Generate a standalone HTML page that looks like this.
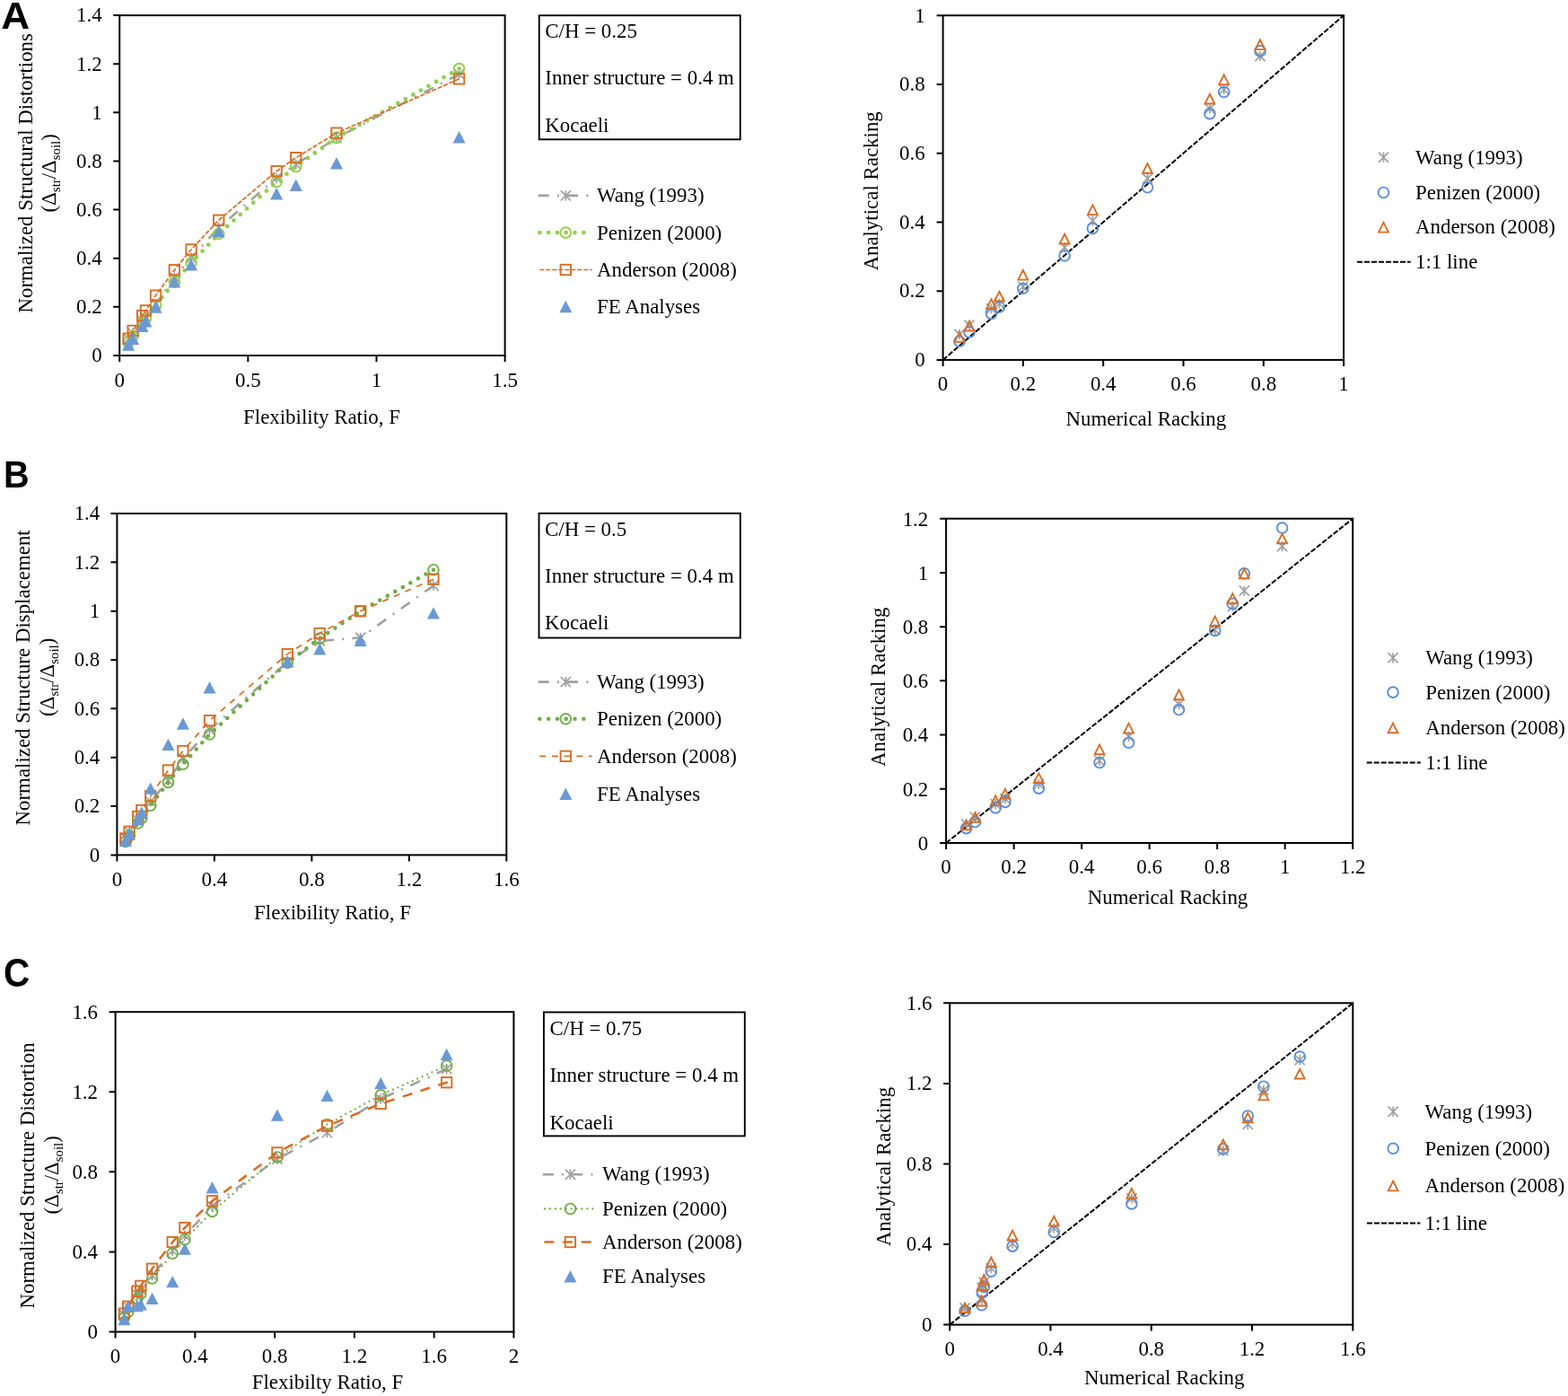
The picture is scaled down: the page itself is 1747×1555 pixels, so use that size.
<!DOCTYPE html>
<html lang="en"><head><meta charset="utf-8"><title>Racking comparison</title>
<style>html,body{margin:0;padding:0;background:#fff}svg{display:block}text{font-family:"Liberation Serif","DejaVu Serif",serif;fill:#000}.pl{font-family:"Liberation Sans","DejaVu Sans",sans-serif;font-weight:bold}</style></head><body>
<svg width="1747" height="1555" viewBox="0 0 1747 1555" role="img" aria-label="Racking comparison charts">
<rect width="1747" height="1555" fill="#fff"/>
<g id="leftA">
<rect x="133.2" y="17.1" width="429.4" height="378.9" fill="none" stroke="#000" stroke-width="2"/>
<path d="M133.2 396v7M276.33 396v7M419.47 396v7M562.6 396v7M133.2 396h-7M133.2 341.87h-7M133.2 287.74h-7M133.2 233.61h-7M133.2 179.49h-7M133.2 125.36h-7M133.2 71.23h-7M133.2 17.1h-7" stroke="#000" stroke-width="2" fill="none"/>
<text x="133.2" y="430.9" font-size="22.9" text-anchor="middle">0</text>
<text x="276.33" y="430.9" font-size="22.9" text-anchor="middle">0.5</text>
<text x="419.47" y="430.9" font-size="22.9" text-anchor="middle">1</text>
<text x="562.6" y="430.9" font-size="22.9" text-anchor="middle">1.5</text>
<text x="113.6" y="403.3" font-size="22.9" text-anchor="end">0</text>
<text x="113.6" y="349.17" font-size="22.9" text-anchor="end">0.2</text>
<text x="113.6" y="295.04" font-size="22.9" text-anchor="end">0.4</text>
<text x="113.6" y="240.91" font-size="22.9" text-anchor="end">0.6</text>
<text x="113.6" y="186.79" font-size="22.9" text-anchor="end">0.8</text>
<text x="113.6" y="132.66" font-size="22.9" text-anchor="end">1</text>
<text x="113.6" y="78.53" font-size="22.9" text-anchor="end">1.2</text>
<text x="113.6" y="24.4" font-size="22.9" text-anchor="end">1.4</text>
<path d="M511.59 82.6L374.95 153.61L329.75 183L308.11 198.3L243.7 253.64L213.07 287.2L194.32 308.85L173.56 338.49L162.4 353.24L158.59 357.57L148.11 371.1L143.08 377.6" stroke="#A0A0A0" stroke-width="2.6" fill="none" stroke-dasharray="12 9.2 2 9.2" stroke-linecap="butt" stroke-linejoin="round"/>
<path d="M143.08 372V383.2M137.48 372L148.68 383.2M137.48 383.2L148.68 372" stroke="#A0A0A0" stroke-width="1.7" fill="none"/>
<path d="M148.11 365.5V376.7M142.51 365.5L153.71 376.7M142.51 376.7L153.71 365.5" stroke="#A0A0A0" stroke-width="1.7" fill="none"/>
<path d="M158.59 351.97V363.17M152.99 351.97L164.19 363.17M152.99 363.17L164.19 351.97" stroke="#A0A0A0" stroke-width="1.7" fill="none"/>
<path d="M162.4 347.64V358.84M156.8 347.64L168 358.84M156.8 358.84L168 347.64" stroke="#A0A0A0" stroke-width="1.7" fill="none"/>
<path d="M173.56 332.89V344.09M167.96 332.89L179.16 344.09M167.96 344.09L179.16 332.89" stroke="#A0A0A0" stroke-width="1.7" fill="none"/>
<path d="M194.32 303.25V314.45M188.72 303.25L199.92 314.45M188.72 314.45L199.92 303.25" stroke="#A0A0A0" stroke-width="1.7" fill="none"/>
<path d="M213.07 281.6V292.8M207.47 281.6L218.67 292.8M207.47 292.8L218.67 281.6" stroke="#A0A0A0" stroke-width="1.7" fill="none"/>
<path d="M243.7 248.04V259.24M238.1 248.04L249.3 259.24M238.1 259.24L249.3 248.04" stroke="#A0A0A0" stroke-width="1.7" fill="none"/>
<path d="M308.11 192.7V203.9M302.51 192.7L313.71 203.9M302.51 203.9L313.71 192.7" stroke="#A0A0A0" stroke-width="1.7" fill="none"/>
<path d="M329.75 177.4V188.6M324.15 177.4L335.35 188.6M324.15 188.6L335.35 177.4" stroke="#A0A0A0" stroke-width="1.7" fill="none"/>
<path d="M374.95 148.01V159.21M369.35 148.01L380.55 159.21M369.35 159.21L380.55 148.01" stroke="#A0A0A0" stroke-width="1.7" fill="none"/>
<path d="M511.59 77V88.2M505.99 77L517.19 88.2M505.99 88.2L517.19 77" stroke="#A0A0A0" stroke-width="1.7" fill="none"/>
<path d="M511.59 76.61L374.95 153.36L329.75 185.57L308.11 202.56L243.7 260.48L213.07 292.7L194.32 314.22L173.56 339.84L162.4 354.48L158.59 359.63L148.11 374.18L143.08 381.4" stroke="#92D050" stroke-width="4.8" fill="none" stroke-dasharray="0 9.8" stroke-linecap="round" stroke-linejoin="round"/>
<circle cx="143.08" cy="381.4" r="5.85" stroke="#92D050" stroke-width="1.9" fill="none"/>
<circle cx="148.11" cy="374.18" r="5.85" stroke="#92D050" stroke-width="1.9" fill="none"/>
<circle cx="158.59" cy="359.63" r="5.85" stroke="#92D050" stroke-width="1.9" fill="none"/>
<circle cx="162.4" cy="354.48" r="5.85" stroke="#92D050" stroke-width="1.9" fill="none"/>
<circle cx="173.56" cy="339.84" r="5.85" stroke="#92D050" stroke-width="1.9" fill="none"/>
<circle cx="194.32" cy="314.22" r="5.85" stroke="#92D050" stroke-width="1.9" fill="none"/>
<circle cx="213.07" cy="292.7" r="5.85" stroke="#92D050" stroke-width="1.9" fill="none"/>
<circle cx="243.7" cy="260.48" r="5.85" stroke="#92D050" stroke-width="1.9" fill="none"/>
<circle cx="308.11" cy="202.56" r="5.85" stroke="#92D050" stroke-width="1.9" fill="none"/>
<circle cx="329.75" cy="185.57" r="5.85" stroke="#92D050" stroke-width="1.9" fill="none"/>
<circle cx="374.95" cy="153.36" r="5.85" stroke="#92D050" stroke-width="1.9" fill="none"/>
<circle cx="511.59" cy="76.61" r="5.85" stroke="#92D050" stroke-width="1.9" fill="none"/>
<path d="M511.59 87.85L374.95 148.17L329.75 175.65L308.11 190.71L243.7 245.25L213.07 277.92L194.32 300.77L173.56 329.11L162.4 345.9L158.59 351.63L148.11 368.38L143.08 377.14" stroke="#D66E26" stroke-width="1.7" fill="none" stroke-dasharray="5.2 1.8" stroke-linecap="butt" stroke-linejoin="round"/>
<rect x="137.38" y="371.44" width="11.4" height="11.4" stroke="#D66E26" stroke-width="1.9" fill="none"/>
<rect x="142.41" y="362.68" width="11.4" height="11.4" stroke="#D66E26" stroke-width="1.9" fill="none"/>
<rect x="152.89" y="345.93" width="11.4" height="11.4" stroke="#D66E26" stroke-width="1.9" fill="none"/>
<rect x="156.7" y="340.2" width="11.4" height="11.4" stroke="#D66E26" stroke-width="1.9" fill="none"/>
<rect x="167.86" y="323.41" width="11.4" height="11.4" stroke="#D66E26" stroke-width="1.9" fill="none"/>
<rect x="188.62" y="295.07" width="11.4" height="11.4" stroke="#D66E26" stroke-width="1.9" fill="none"/>
<rect x="207.37" y="272.22" width="11.4" height="11.4" stroke="#D66E26" stroke-width="1.9" fill="none"/>
<rect x="238" y="239.55" width="11.4" height="11.4" stroke="#D66E26" stroke-width="1.9" fill="none"/>
<rect x="302.41" y="185.01" width="11.4" height="11.4" stroke="#D66E26" stroke-width="1.9" fill="none"/>
<rect x="324.05" y="169.95" width="11.4" height="11.4" stroke="#D66E26" stroke-width="1.9" fill="none"/>
<rect x="369.25" y="142.47" width="11.4" height="11.4" stroke="#D66E26" stroke-width="1.9" fill="none"/>
<rect x="505.89" y="82.15" width="11.4" height="11.4" stroke="#D66E26" stroke-width="1.9" fill="none"/>
<path d="M143.08 377.23L150.08 390.63H136.08Z" fill="#6A99D5"/>
<path d="M148.11 370.57L155.11 383.97H141.11Z" fill="#6A99D5"/>
<path d="M158.59 356.63L165.59 370.03H151.59Z" fill="#6A99D5"/>
<path d="M162.4 351.22L169.4 364.62H155.4Z" fill="#6A99D5"/>
<path d="M173.56 335.23L180.56 348.63H166.56Z" fill="#6A99D5"/>
<path d="M194.32 307.16L201.32 320.56H187.32Z" fill="#6A99D5"/>
<path d="M213.07 288.19L220.07 301.59H206.07Z" fill="#6A99D5"/>
<path d="M243.7 251.16L250.7 264.56H236.7Z" fill="#6A99D5"/>
<path d="M308.11 209.11L315.11 222.51H301.11Z" fill="#6A99D5"/>
<path d="M329.75 199.53L336.75 212.93H322.75Z" fill="#6A99D5"/>
<path d="M374.95 175.09L381.95 188.49H367.95Z" fill="#6A99D5"/>
<path d="M511.59 145.99L518.59 159.39H504.59Z" fill="#6A99D5"/>
<text transform="translate(35.7 192.8) rotate(-90)" font-size="22.9" text-anchor="middle">Normalized Structural Distortions</text>
<text transform="translate(62 192.8) rotate(-90)" font-size="22.9" text-anchor="middle">(Δ<tspan font-size="14.8" dy="4.9">str</tspan><tspan dy="-4.9">/Δ</tspan><tspan font-size="14.8" dy="4.9">soil</tspan><tspan dy="-4.9">)</tspan></text>
<text x="358.5" y="471.5" font-size="22.9" text-anchor="middle">Flexibility Ratio, F</text>
</g>
<g id="infoA">
<rect x="600.7" y="17.2" width="224" height="138.1" fill="none" stroke="#000" stroke-width="1.9"/>
<text x="607.3" y="42.1" font-size="22.9" text-anchor="start">C/H = 0.25</text>
<text x="607.3" y="94.4" font-size="22.9" text-anchor="start">Inner structure = 0.4 m</text>
<text x="607.3" y="146.8" font-size="22.9" text-anchor="start">Kocaeli</text>
<path d="M599.7 217.9H659.7" stroke="#A0A0A0" stroke-width="2.6" stroke-dasharray="12 9.2 2 9.2" fill="none"/>
<path d="M630.3 212.3V223.5M624.7 212.3L635.9 223.5M624.7 223.5L635.9 212.3" stroke="#A0A0A0" stroke-width="1.7" fill="none"/>
<text x="665" y="224.9" font-size="22.9" text-anchor="start">Wang (1993)</text>
<path d="M601.3 259.1H659.7" stroke="#92D050" stroke-width="4.8" stroke-dasharray="0 9.8" stroke-linecap="round" fill="none"/>
<circle cx="630.3" cy="259.1" r="5.85" stroke="#92D050" stroke-width="1.9" fill="none"/>
<text x="665" y="266.5" font-size="22.9" text-anchor="start">Penizen (2000)</text>
<path d="M601.2 300.5H659.7" stroke="#D66E26" stroke-width="1.7" stroke-dasharray="5.2 1.8" stroke-linecap="butt" fill="none"/>
<rect x="624.6" y="294.8" width="11.4" height="11.4" stroke="#D66E26" stroke-width="1.9" fill="none"/>
<text x="665" y="308" font-size="22.9" text-anchor="start">Anderson (2008)</text>
<path d="M630.3 334.8L637.3 348.2H623.3Z" fill="#6A99D5"/>
<text x="665" y="348.8" font-size="22.9" text-anchor="start">FE Analyses</text>
</g>
<g id="rightA">
<rect x="1050.6" y="17.2" width="446.5" height="383.7" fill="none" stroke="#000" stroke-width="2"/>
<path d="M1050.6 400.9v7M1139.9 400.9v7M1229.2 400.9v7M1318.5 400.9v7M1407.8 400.9v7M1497.1 400.9v7M1050.6 400.9h-7M1050.6 324.16h-7M1050.6 247.42h-7M1050.6 170.68h-7M1050.6 93.94h-7M1050.6 17.2h-7" stroke="#000" stroke-width="2" fill="none"/>
<text x="1050.6" y="434.8" font-size="22.9" text-anchor="middle">0</text>
<text x="1139.9" y="434.8" font-size="22.9" text-anchor="middle">0.2</text>
<text x="1229.2" y="434.8" font-size="22.9" text-anchor="middle">0.4</text>
<text x="1318.5" y="434.8" font-size="22.9" text-anchor="middle">0.6</text>
<text x="1407.8" y="434.8" font-size="22.9" text-anchor="middle">0.8</text>
<text x="1497.1" y="434.8" font-size="22.9" text-anchor="middle">1</text>
<text x="1030.6" y="408.2" font-size="22.9" text-anchor="end">0</text>
<text x="1030.6" y="331.46" font-size="22.9" text-anchor="end">0.2</text>
<text x="1030.6" y="254.72" font-size="22.9" text-anchor="end">0.4</text>
<text x="1030.6" y="177.98" font-size="22.9" text-anchor="end">0.6</text>
<text x="1030.6" y="101.24" font-size="22.9" text-anchor="end">0.8</text>
<text x="1030.6" y="24.5" font-size="22.9" text-anchor="end">1</text>
<path d="M1050.6 400.9L1497.1 17.2" stroke="#000" stroke-width="2" stroke-dasharray="6 2" fill="none"/>
<path d="M1069.04 366.91V378.11M1063.44 366.91L1074.64 378.11M1063.44 378.11L1074.64 366.91" stroke="#A0A0A0" stroke-width="1.7" fill="none"/>
<path d="M1080.02 356.55V367.75M1074.42 356.55L1085.62 367.75M1074.42 367.75L1085.62 356.55" stroke="#A0A0A0" stroke-width="1.7" fill="none"/>
<path d="M1104.49 338.13V349.33M1098.89 338.13L1110.09 349.33M1098.89 349.33L1110.09 338.13" stroke="#A0A0A0" stroke-width="1.7" fill="none"/>
<path d="M1113.42 332.57V343.77M1107.82 332.57L1119.02 343.77M1107.82 343.77L1119.02 332.57" stroke="#A0A0A0" stroke-width="1.7" fill="none"/>
<path d="M1139.81 313.76V324.96M1134.21 313.76L1145.41 324.96M1134.21 324.96L1145.41 313.76" stroke="#A0A0A0" stroke-width="1.7" fill="none"/>
<path d="M1186.11 270.02V281.22M1180.51 270.02L1191.71 281.22M1180.51 281.22L1191.71 270.02" stroke="#A0A0A0" stroke-width="1.7" fill="none"/>
<path d="M1217.41 240.09V251.29M1211.81 240.09L1223.01 251.29M1211.81 251.29L1223.01 240.09" stroke="#A0A0A0" stroke-width="1.7" fill="none"/>
<path d="M1278.49 193.09V204.29M1272.89 193.09L1284.09 204.29M1272.89 204.29L1284.09 193.09" stroke="#A0A0A0" stroke-width="1.7" fill="none"/>
<path d="M1347.88 115.39V126.59M1342.28 115.39L1353.48 126.59M1342.28 126.59L1353.48 115.39" stroke="#A0A0A0" stroke-width="1.7" fill="none"/>
<path d="M1363.69 94.1V105.3M1358.09 94.1L1369.29 105.3M1358.09 105.3L1369.29 94.1" stroke="#A0A0A0" stroke-width="1.7" fill="none"/>
<path d="M1404 56.88V68.08M1398.4 56.88L1409.6 68.08M1398.4 68.08L1409.6 56.88" stroke="#A0A0A0" stroke-width="1.7" fill="none"/>
<circle cx="1069.04" cy="380.21" r="5.85" stroke="#5B8FD6" stroke-width="1.9" fill="none"/>
<circle cx="1080.02" cy="369.97" r="5.85" stroke="#5B8FD6" stroke-width="1.9" fill="none"/>
<circle cx="1104.49" cy="349.33" r="5.85" stroke="#5B8FD6" stroke-width="1.9" fill="none"/>
<circle cx="1113.42" cy="342.04" r="5.85" stroke="#5B8FD6" stroke-width="1.9" fill="none"/>
<circle cx="1139.81" cy="321.28" r="5.85" stroke="#5B8FD6" stroke-width="1.9" fill="none"/>
<circle cx="1186.11" cy="284.95" r="5.85" stroke="#5B8FD6" stroke-width="1.9" fill="none"/>
<circle cx="1217.41" cy="254.45" r="5.85" stroke="#5B8FD6" stroke-width="1.9" fill="none"/>
<circle cx="1278.49" cy="208.78" r="5.85" stroke="#5B8FD6" stroke-width="1.9" fill="none"/>
<circle cx="1347.88" cy="126.65" r="5.85" stroke="#5B8FD6" stroke-width="1.9" fill="none"/>
<circle cx="1363.69" cy="102.56" r="5.85" stroke="#5B8FD6" stroke-width="1.9" fill="none"/>
<circle cx="1404" cy="56.91" r="5.85" stroke="#5B8FD6" stroke-width="1.9" fill="none"/>
<path d="M1069.04 370.21L1074.44 380.91H1063.64Z" stroke="#D66E26" stroke-width="1.9" fill="none" stroke-linejoin="miter"/>
<path d="M1080.02 357.8L1085.42 368.5H1074.62Z" stroke="#D66E26" stroke-width="1.9" fill="none" stroke-linejoin="miter"/>
<path d="M1104.49 333.28L1109.89 343.98H1099.09Z" stroke="#D66E26" stroke-width="1.9" fill="none" stroke-linejoin="miter"/>
<path d="M1113.42 324.77L1118.82 335.47H1108.02Z" stroke="#D66E26" stroke-width="1.9" fill="none" stroke-linejoin="miter"/>
<path d="M1139.81 300.97L1145.21 311.67H1134.41Z" stroke="#D66E26" stroke-width="1.9" fill="none" stroke-linejoin="miter"/>
<path d="M1186.11 260.79L1191.51 271.49H1180.71Z" stroke="#D66E26" stroke-width="1.9" fill="none" stroke-linejoin="miter"/>
<path d="M1217.41 228.4L1222.81 239.1H1212.01Z" stroke="#D66E26" stroke-width="1.9" fill="none" stroke-linejoin="miter"/>
<path d="M1278.49 182.08L1283.89 192.78H1273.09Z" stroke="#D66E26" stroke-width="1.9" fill="none" stroke-linejoin="miter"/>
<path d="M1347.88 104.75L1353.28 115.45H1342.48Z" stroke="#D66E26" stroke-width="1.9" fill="none" stroke-linejoin="miter"/>
<path d="M1363.69 83.4L1369.09 94.1H1358.29Z" stroke="#D66E26" stroke-width="1.9" fill="none" stroke-linejoin="miter"/>
<path d="M1404 44.45L1409.4 55.15H1398.6Z" stroke="#D66E26" stroke-width="1.9" fill="none" stroke-linejoin="miter"/>
<text transform="translate(977.9 212.9) rotate(-90)" font-size="22.9" text-anchor="middle">Analytical Racking</text>
<text x="1276.8" y="474" font-size="22.9" text-anchor="middle">Numerical Racking</text>
<path d="M1541.5 169.6V180.8M1535.9 169.6L1547.1 180.8M1535.9 180.8L1547.1 169.6" stroke="#A0A0A0" stroke-width="1.7" fill="none"/>
<text x="1577" y="182.6" font-size="22.9" text-anchor="start">Wang (1993)</text>
<circle cx="1541.5" cy="214.5" r="5.85" stroke="#5B8FD6" stroke-width="1.9" fill="none"/>
<text x="1577" y="221.9" font-size="22.9" text-anchor="start">Penizen (2000)</text>
<path d="M1541.5 247.9L1546.9 258.6H1536.1Z" stroke="#D66E26" stroke-width="1.9" fill="none" stroke-linejoin="miter"/>
<text x="1577" y="260.4" font-size="22.9" text-anchor="start">Anderson (2008)</text>
<path d="M1512 291.8H1571.7" stroke="#000" stroke-width="2" stroke-dasharray="6 2" fill="none"/>
<text x="1577" y="299.2" font-size="22.9" text-anchor="start">1:1 line</text>
</g>
<g id="leftB">
<rect x="130.4" y="572" width="433.9" height="380.4" fill="none" stroke="#000" stroke-width="2"/>
<path d="M130.4 952.4v7M238.88 952.4v7M347.35 952.4v7M455.82 952.4v7M564.3 952.4v7M130.4 952.4h-7M130.4 898.06h-7M130.4 843.71h-7M130.4 789.37h-7M130.4 735.03h-7M130.4 680.69h-7M130.4 626.34h-7M130.4 572h-7" stroke="#000" stroke-width="2" fill="none"/>
<text x="130.4" y="986.7" font-size="22.9" text-anchor="middle">0</text>
<text x="238.88" y="986.7" font-size="22.9" text-anchor="middle">0.4</text>
<text x="347.35" y="986.7" font-size="22.9" text-anchor="middle">0.8</text>
<text x="455.82" y="986.7" font-size="22.9" text-anchor="middle">1.2</text>
<text x="564.3" y="986.7" font-size="22.9" text-anchor="middle">1.6</text>
<text x="111.3" y="959.7" font-size="22.9" text-anchor="end">0</text>
<text x="111.3" y="905.36" font-size="22.9" text-anchor="end">0.2</text>
<text x="111.3" y="851.01" font-size="22.9" text-anchor="end">0.4</text>
<text x="111.3" y="796.67" font-size="22.9" text-anchor="end">0.6</text>
<text x="111.3" y="742.33" font-size="22.9" text-anchor="end">0.8</text>
<text x="111.3" y="687.99" font-size="22.9" text-anchor="end">1</text>
<text x="111.3" y="633.64" font-size="22.9" text-anchor="end">1.2</text>
<text x="111.3" y="579.3" font-size="22.9" text-anchor="end">1.4</text>
<path d="M482.94 652.26L401.59 710.3L356.19 714L320.23 737.53L233.51 812.6L203.89 845.18L187.4 869.45L167.69 893L157.79 907.84L153.7 913.22L144.09 926.32L139.89 933.43" stroke="#A0A0A0" stroke-width="2.6" fill="none" stroke-dasharray="12 9.2 2 9.2" stroke-linecap="butt" stroke-linejoin="round"/>
<path d="M139.89 927.83V939.03M134.29 927.83L145.49 939.03M134.29 939.03L145.49 927.83" stroke="#A0A0A0" stroke-width="1.7" fill="none"/>
<path d="M144.09 920.72V931.92M138.49 920.72L149.69 931.92M138.49 931.92L149.69 920.72" stroke="#A0A0A0" stroke-width="1.7" fill="none"/>
<path d="M153.7 907.62V918.82M148.1 907.62L159.3 918.82M148.1 918.82L159.3 907.62" stroke="#A0A0A0" stroke-width="1.7" fill="none"/>
<path d="M157.79 902.24V913.44M152.19 902.24L163.39 913.44M152.19 913.44L163.39 902.24" stroke="#A0A0A0" stroke-width="1.7" fill="none"/>
<path d="M167.69 887.4V898.6M162.09 887.4L173.29 898.6M162.09 898.6L173.29 887.4" stroke="#A0A0A0" stroke-width="1.7" fill="none"/>
<path d="M187.4 863.85V875.05M181.8 863.85L193 875.05M181.8 875.05L193 863.85" stroke="#A0A0A0" stroke-width="1.7" fill="none"/>
<path d="M203.89 839.58V850.78M198.29 839.58L209.49 850.78M198.29 850.78L209.49 839.58" stroke="#A0A0A0" stroke-width="1.7" fill="none"/>
<path d="M233.51 807V818.2M227.91 807L239.11 818.2M227.91 818.2L239.11 807" stroke="#A0A0A0" stroke-width="1.7" fill="none"/>
<path d="M320.23 731.93V743.13M314.63 731.93L325.83 743.13M314.63 743.13L325.83 731.93" stroke="#A0A0A0" stroke-width="1.7" fill="none"/>
<path d="M356.19 708.4V719.6M350.59 708.4L361.79 719.6M350.59 719.6L361.79 708.4" stroke="#A0A0A0" stroke-width="1.7" fill="none"/>
<path d="M401.59 704.7V715.9M395.99 704.7L407.19 715.9M395.99 715.9L407.19 704.7" stroke="#A0A0A0" stroke-width="1.7" fill="none"/>
<path d="M482.94 646.66V657.86M477.34 646.66L488.54 657.86M477.34 657.86L488.54 646.66" stroke="#A0A0A0" stroke-width="1.7" fill="none"/>
<path d="M482.94 634.73L401.59 680.69L356.19 711.1L320.23 738.23L233.51 818.02L203.89 851.25L187.4 871.42L167.69 897.31L157.79 911.1L153.7 916.98L144.09 931.15L139.89 937.54" stroke="#70AD47" stroke-width="4.6" fill="none" stroke-dasharray="0 9.8" stroke-linecap="round" stroke-linejoin="round"/>
<circle cx="139.89" cy="937.54" r="5.85" stroke="#70AD47" stroke-width="1.9" fill="none"/>
<circle cx="144.09" cy="931.15" r="5.85" stroke="#70AD47" stroke-width="1.9" fill="none"/>
<circle cx="153.7" cy="916.98" r="5.85" stroke="#70AD47" stroke-width="1.9" fill="none"/>
<circle cx="157.79" cy="911.1" r="5.85" stroke="#70AD47" stroke-width="1.9" fill="none"/>
<circle cx="167.69" cy="897.31" r="5.85" stroke="#70AD47" stroke-width="1.9" fill="none"/>
<circle cx="187.4" cy="871.42" r="5.85" stroke="#70AD47" stroke-width="1.9" fill="none"/>
<circle cx="203.89" cy="851.25" r="5.85" stroke="#70AD47" stroke-width="1.9" fill="none"/>
<circle cx="233.51" cy="818.02" r="5.85" stroke="#70AD47" stroke-width="1.9" fill="none"/>
<circle cx="320.23" cy="738.23" r="5.85" stroke="#70AD47" stroke-width="1.9" fill="none"/>
<circle cx="356.19" cy="711.1" r="5.85" stroke="#70AD47" stroke-width="1.9" fill="none"/>
<circle cx="401.59" cy="680.69" r="5.85" stroke="#70AD47" stroke-width="1.9" fill="none"/>
<circle cx="482.94" cy="634.73" r="5.85" stroke="#70AD47" stroke-width="1.9" fill="none"/>
<path d="M482.94 645.24L401.59 680.69L356.19 705.51L320.23 728.64L233.51 802.7L203.89 836.53L187.4 858.01L167.69 886.71L157.79 902.55L153.7 909.41L144.09 926.28L139.89 934.02" stroke="#D66E26" stroke-width="1.7" fill="none" stroke-dasharray="7 6.7" stroke-linecap="butt" stroke-linejoin="round"/>
<rect x="134.19" y="928.32" width="11.4" height="11.4" stroke="#D66E26" stroke-width="1.9" fill="none"/>
<rect x="138.39" y="920.58" width="11.4" height="11.4" stroke="#D66E26" stroke-width="1.9" fill="none"/>
<rect x="148" y="903.71" width="11.4" height="11.4" stroke="#D66E26" stroke-width="1.9" fill="none"/>
<rect x="152.09" y="896.85" width="11.4" height="11.4" stroke="#D66E26" stroke-width="1.9" fill="none"/>
<rect x="161.99" y="881.01" width="11.4" height="11.4" stroke="#D66E26" stroke-width="1.9" fill="none"/>
<rect x="181.7" y="852.31" width="11.4" height="11.4" stroke="#D66E26" stroke-width="1.9" fill="none"/>
<rect x="198.19" y="830.83" width="11.4" height="11.4" stroke="#D66E26" stroke-width="1.9" fill="none"/>
<rect x="227.81" y="797" width="11.4" height="11.4" stroke="#D66E26" stroke-width="1.9" fill="none"/>
<rect x="314.53" y="722.94" width="11.4" height="11.4" stroke="#D66E26" stroke-width="1.9" fill="none"/>
<rect x="350.49" y="699.81" width="11.4" height="11.4" stroke="#D66E26" stroke-width="1.9" fill="none"/>
<rect x="395.89" y="674.99" width="11.4" height="11.4" stroke="#D66E26" stroke-width="1.9" fill="none"/>
<rect x="477.24" y="639.54" width="11.4" height="11.4" stroke="#D66E26" stroke-width="1.9" fill="none"/>
<path d="M139.89 929.48L146.89 942.88H132.89Z" fill="#6A99D5"/>
<path d="M144.09 922.36L151.09 935.76H137.09Z" fill="#6A99D5"/>
<path d="M153.7 906.03L160.7 919.43H146.7Z" fill="#6A99D5"/>
<path d="M157.79 898.34L164.79 911.74H150.79Z" fill="#6A99D5"/>
<path d="M167.69 871.39L174.69 884.79H160.69Z" fill="#6A99D5"/>
<path d="M187.4 822.67L194.4 836.07H180.4Z" fill="#6A99D5"/>
<path d="M203.89 799.3L210.89 812.7H196.89Z" fill="#6A99D5"/>
<path d="M233.51 759.03L240.51 772.43H226.51Z" fill="#6A99D5"/>
<path d="M320.23 730.09L327.23 743.49H313.23Z" fill="#6A99D5"/>
<path d="M356.19 715.99L363.19 729.39H349.19Z" fill="#6A99D5"/>
<path d="M401.59 706.62L408.59 720.02H394.59Z" fill="#6A99D5"/>
<path d="M482.94 676.21L489.94 689.61H475.94Z" fill="#6A99D5"/>
<text transform="translate(33.1 754.9) rotate(-90)" font-size="22.9" text-anchor="middle">Normalized Structure Displacement</text>
<text transform="translate(60.2 754.3) rotate(-90)" font-size="22.9" text-anchor="middle">(Δ<tspan font-size="14.8" dy="4.9">str</tspan><tspan dy="-4.9">/Δ</tspan><tspan font-size="14.8" dy="4.9">soil</tspan><tspan dy="-4.9">)</tspan></text>
<text x="370.5" y="1024.1" font-size="22.9" text-anchor="middle">Flexibility Ratio, F</text>
</g>
<g id="infoB">
<rect x="600.5" y="571.8" width="224.3" height="138.7" fill="none" stroke="#000" stroke-width="1.9"/>
<text x="607.1" y="596.7" font-size="22.9" text-anchor="start">C/H = 0.5</text>
<text x="607.1" y="649" font-size="22.9" text-anchor="start">Inner structure = 0.4 m</text>
<text x="607.1" y="701.4" font-size="22.9" text-anchor="start">Kocaeli</text>
<path d="M599.7 759.6H659.7" stroke="#A0A0A0" stroke-width="2.6" stroke-dasharray="12 9.2 2 9.2" fill="none"/>
<path d="M630.3 754V765.2M624.7 754L635.9 765.2M624.7 765.2L635.9 754" stroke="#A0A0A0" stroke-width="1.7" fill="none"/>
<text x="665" y="766.6" font-size="22.9" text-anchor="start">Wang (1993)</text>
<path d="M601.3 800.8H659.7" stroke="#70AD47" stroke-width="4.6" stroke-dasharray="0 9.8" stroke-linecap="round" fill="none"/>
<circle cx="630.3" cy="800.8" r="5.85" stroke="#70AD47" stroke-width="1.9" fill="none"/>
<text x="665" y="808.2" font-size="22.9" text-anchor="start">Penizen (2000)</text>
<path d="M601.2 842.3H659.7" stroke="#D66E26" stroke-width="1.7" stroke-dasharray="7 6.7" stroke-linecap="butt" fill="none"/>
<rect x="624.6" y="836.6" width="11.4" height="11.4" stroke="#D66E26" stroke-width="1.9" fill="none"/>
<text x="665" y="849.8" font-size="22.9" text-anchor="start">Anderson (2008)</text>
<path d="M630.3 877.6L637.3 891H623.3Z" fill="#6A99D5"/>
<text x="665" y="891.6" font-size="22.9" text-anchor="start">FE Analyses</text>
</g>
<g id="rightB">
<rect x="1054.1" y="577.7" width="453.1" height="361.3" fill="none" stroke="#000" stroke-width="2"/>
<path d="M1054.1 939v7M1129.62 939v7M1205.13 939v7M1280.65 939v7M1356.17 939v7M1431.68 939v7M1507.2 939v7M1054.1 939h-7M1054.1 878.78h-7M1054.1 818.57h-7M1054.1 758.35h-7M1054.1 698.13h-7M1054.1 637.92h-7M1054.1 577.7h-7" stroke="#000" stroke-width="2" fill="none"/>
<text x="1054.1" y="973.3" font-size="22.9" text-anchor="middle">0</text>
<text x="1129.62" y="973.3" font-size="22.9" text-anchor="middle">0.2</text>
<text x="1205.13" y="973.3" font-size="22.9" text-anchor="middle">0.4</text>
<text x="1280.65" y="973.3" font-size="22.9" text-anchor="middle">0.6</text>
<text x="1356.17" y="973.3" font-size="22.9" text-anchor="middle">0.8</text>
<text x="1431.68" y="973.3" font-size="22.9" text-anchor="middle">1</text>
<text x="1507.2" y="973.3" font-size="22.9" text-anchor="middle">1.2</text>
<text x="1034.3" y="946.8" font-size="22.9" text-anchor="end">0</text>
<text x="1034.3" y="886.58" font-size="22.9" text-anchor="end">0.2</text>
<text x="1034.3" y="826.37" font-size="22.9" text-anchor="end">0.4</text>
<text x="1034.3" y="766.15" font-size="22.9" text-anchor="end">0.6</text>
<text x="1034.3" y="705.93" font-size="22.9" text-anchor="end">0.8</text>
<text x="1034.3" y="645.72" font-size="22.9" text-anchor="end">1</text>
<text x="1034.3" y="585.5" font-size="22.9" text-anchor="end">1.2</text>
<path d="M1054.1 939L1507.2 577.7" stroke="#000" stroke-width="2" stroke-dasharray="6 2" fill="none"/>
<path d="M1076.64 912.45V923.65M1071.04 912.45L1082.24 923.65M1071.04 923.65L1082.24 912.45" stroke="#A0A0A0" stroke-width="1.7" fill="none"/>
<path d="M1086.53 904.58V915.78M1080.93 904.58L1092.13 915.78M1080.93 915.78L1092.13 904.58" stroke="#A0A0A0" stroke-width="1.7" fill="none"/>
<path d="M1109.23 890.11V901.31M1103.63 890.11L1114.83 901.31M1103.63 901.31L1114.83 890.11" stroke="#A0A0A0" stroke-width="1.7" fill="none"/>
<path d="M1119.91 884.17V895.37M1114.31 884.17L1125.51 895.37M1114.31 895.37L1125.51 884.17" stroke="#A0A0A0" stroke-width="1.7" fill="none"/>
<path d="M1157.37 867.78V878.98M1151.77 867.78L1162.97 878.98M1151.77 878.98L1162.97 867.78" stroke="#A0A0A0" stroke-width="1.7" fill="none"/>
<path d="M1225.07 841.76V852.96M1219.47 841.76L1230.67 852.96M1219.47 852.96L1230.67 841.76" stroke="#A0A0A0" stroke-width="1.7" fill="none"/>
<path d="M1257.54 814.95V826.15M1251.94 814.95L1263.14 826.15M1251.94 826.15L1263.14 814.95" stroke="#A0A0A0" stroke-width="1.7" fill="none"/>
<path d="M1313.5 778.96V790.16M1307.9 778.96L1319.1 790.16M1307.9 790.16L1319.1 778.96" stroke="#A0A0A0" stroke-width="1.7" fill="none"/>
<path d="M1353.71 696.02V707.22M1348.11 696.02L1359.31 707.22M1348.11 707.22L1359.31 696.02" stroke="#A0A0A0" stroke-width="1.7" fill="none"/>
<path d="M1373.31 670.02V681.22M1367.71 670.02L1378.91 681.22M1367.71 681.22L1378.91 670.02" stroke="#A0A0A0" stroke-width="1.7" fill="none"/>
<path d="M1386.34 652.43V663.63M1380.74 652.43L1391.94 663.63M1380.74 663.63L1391.94 652.43" stroke="#A0A0A0" stroke-width="1.7" fill="none"/>
<path d="M1428.59 602.96V614.16M1422.99 602.96L1434.19 614.16M1422.99 614.16L1434.19 602.96" stroke="#A0A0A0" stroke-width="1.7" fill="none"/>
<circle cx="1076.64" cy="922.58" r="5.85" stroke="#5B8FD6" stroke-width="1.9" fill="none"/>
<circle cx="1086.53" cy="915.52" r="5.85" stroke="#5B8FD6" stroke-width="1.9" fill="none"/>
<circle cx="1109.23" cy="899.87" r="5.85" stroke="#5B8FD6" stroke-width="1.9" fill="none"/>
<circle cx="1119.91" cy="893.38" r="5.85" stroke="#5B8FD6" stroke-width="1.9" fill="none"/>
<circle cx="1157.37" cy="878.14" r="5.85" stroke="#5B8FD6" stroke-width="1.9" fill="none"/>
<circle cx="1225.07" cy="849.54" r="5.85" stroke="#5B8FD6" stroke-width="1.9" fill="none"/>
<circle cx="1257.54" cy="827.25" r="5.85" stroke="#5B8FD6" stroke-width="1.9" fill="none"/>
<circle cx="1313.5" cy="790.54" r="5.85" stroke="#5B8FD6" stroke-width="1.9" fill="none"/>
<circle cx="1353.71" cy="702.39" r="5.85" stroke="#5B8FD6" stroke-width="1.9" fill="none"/>
<circle cx="1373.31" cy="672.42" r="5.85" stroke="#5B8FD6" stroke-width="1.9" fill="none"/>
<circle cx="1386.34" cy="638.82" r="5.85" stroke="#5B8FD6" stroke-width="1.9" fill="none"/>
<circle cx="1428.59" cy="588.05" r="5.85" stroke="#5B8FD6" stroke-width="1.9" fill="none"/>
<path d="M1076.64 913.6L1082.04 924.3H1071.24Z" stroke="#D66E26" stroke-width="1.9" fill="none" stroke-linejoin="miter"/>
<path d="M1086.53 905.04L1091.93 915.74H1081.13Z" stroke="#D66E26" stroke-width="1.9" fill="none" stroke-linejoin="miter"/>
<path d="M1109.23 886.41L1114.63 897.11H1103.83Z" stroke="#D66E26" stroke-width="1.9" fill="none" stroke-linejoin="miter"/>
<path d="M1119.91 878.83L1125.31 889.53H1114.51Z" stroke="#D66E26" stroke-width="1.9" fill="none" stroke-linejoin="miter"/>
<path d="M1157.37 861.33L1162.77 872.03H1151.97Z" stroke="#D66E26" stroke-width="1.9" fill="none" stroke-linejoin="miter"/>
<path d="M1225.07 829.62L1230.47 840.32H1219.67Z" stroke="#D66E26" stroke-width="1.9" fill="none" stroke-linejoin="miter"/>
<path d="M1257.54 805.89L1262.94 816.59H1252.14Z" stroke="#D66E26" stroke-width="1.9" fill="none" stroke-linejoin="miter"/>
<path d="M1313.5 768.52L1318.9 779.22H1308.1Z" stroke="#D66E26" stroke-width="1.9" fill="none" stroke-linejoin="miter"/>
<path d="M1353.71 686.69L1359.11 697.39H1348.31Z" stroke="#D66E26" stroke-width="1.9" fill="none" stroke-linejoin="miter"/>
<path d="M1373.31 661.14L1378.71 671.84H1367.91Z" stroke="#D66E26" stroke-width="1.9" fill="none" stroke-linejoin="miter"/>
<path d="M1386.34 633.72L1391.74 644.42H1380.94Z" stroke="#D66E26" stroke-width="1.9" fill="none" stroke-linejoin="miter"/>
<path d="M1428.59 594.57L1433.99 605.27H1423.19Z" stroke="#D66E26" stroke-width="1.9" fill="none" stroke-linejoin="miter"/>
<text transform="translate(986 765.3) rotate(-90)" font-size="22.9" text-anchor="middle">Analytical Racking</text>
<text x="1301" y="1007.3" font-size="22.9" text-anchor="middle">Numerical Racking</text>
<path d="M1552 727.2V738.4M1546.4 727.2L1557.6 738.4M1546.4 738.4L1557.6 727.2" stroke="#A0A0A0" stroke-width="1.7" fill="none"/>
<text x="1588.2" y="740.2" font-size="22.9" text-anchor="start">Wang (1993)</text>
<circle cx="1552" cy="771.1" r="5.85" stroke="#5B8FD6" stroke-width="1.9" fill="none"/>
<text x="1588.2" y="778.5" font-size="22.9" text-anchor="start">Penizen (2000)</text>
<path d="M1552 805.6L1557.4 816.3H1546.6Z" stroke="#D66E26" stroke-width="1.9" fill="none" stroke-linejoin="miter"/>
<text x="1588.2" y="818.1" font-size="22.9" text-anchor="start">Anderson (2008)</text>
<path d="M1522.7 849.5H1582.8" stroke="#000" stroke-width="2" stroke-dasharray="6 2" fill="none"/>
<text x="1588.2" y="856.9" font-size="22.9" text-anchor="start">1:1 line</text>
</g>
<g id="leftC">
<rect x="128.6" y="1127.2" width="443.8" height="356.3" fill="none" stroke="#000" stroke-width="2"/>
<path d="M128.6 1483.5v7M217.36 1483.5v7M306.12 1483.5v7M394.88 1483.5v7M483.64 1483.5v7M572.4 1483.5v7M128.6 1483.5h-7M128.6 1394.42h-7M128.6 1305.35h-7M128.6 1216.28h-7M128.6 1127.2h-7" stroke="#000" stroke-width="2" fill="none"/>
<text x="128.6" y="1517.8" font-size="22.9" text-anchor="middle">0</text>
<text x="217.36" y="1517.8" font-size="22.9" text-anchor="middle">0.4</text>
<text x="306.12" y="1517.8" font-size="22.9" text-anchor="middle">0.8</text>
<text x="394.88" y="1517.8" font-size="22.9" text-anchor="middle">1.2</text>
<text x="483.64" y="1517.8" font-size="22.9" text-anchor="middle">1.6</text>
<text x="572.4" y="1517.8" font-size="22.9" text-anchor="middle">2</text>
<text x="109" y="1490.8" font-size="22.9" text-anchor="end">0</text>
<text x="109" y="1401.72" font-size="22.9" text-anchor="end">0.4</text>
<text x="109" y="1312.65" font-size="22.9" text-anchor="end">0.8</text>
<text x="109" y="1223.58" font-size="22.9" text-anchor="end">1.2</text>
<text x="109" y="1134.5" font-size="22.9" text-anchor="end">1.6</text>
<path d="M497.62 1190.65L424.17 1224.16L364.48 1261.66L308.92 1290.95L236.49 1343.54L205.91 1376.38L192.2 1393.12L169.56 1420.54L156.83 1436.3L152.88 1441.85L142.69 1455.61L138.43 1464.48" stroke="#A0A0A0" stroke-width="2.6" fill="none" stroke-dasharray="12 9.2 2 9.2" stroke-linecap="butt" stroke-linejoin="round"/>
<path d="M138.43 1458.88V1470.08M132.83 1458.88L144.03 1470.08M132.83 1470.08L144.03 1458.88" stroke="#A0A0A0" stroke-width="1.7" fill="none"/>
<path d="M142.69 1450.01V1461.21M137.09 1450.01L148.29 1461.21M137.09 1461.21L148.29 1450.01" stroke="#A0A0A0" stroke-width="1.7" fill="none"/>
<path d="M152.88 1436.25V1447.45M147.28 1436.25L158.48 1447.45M147.28 1447.45L158.48 1436.25" stroke="#A0A0A0" stroke-width="1.7" fill="none"/>
<path d="M156.83 1430.7V1441.9M151.23 1430.7L162.43 1441.9M151.23 1441.9L162.43 1430.7" stroke="#A0A0A0" stroke-width="1.7" fill="none"/>
<path d="M169.56 1414.94V1426.14M163.96 1414.94L175.16 1426.14M163.96 1426.14L175.16 1414.94" stroke="#A0A0A0" stroke-width="1.7" fill="none"/>
<path d="M192.2 1387.52V1398.72M186.6 1387.52L197.8 1398.72M186.6 1398.72L197.8 1387.52" stroke="#A0A0A0" stroke-width="1.7" fill="none"/>
<path d="M205.91 1370.78V1381.98M200.31 1370.78L211.51 1381.98M200.31 1381.98L211.51 1370.78" stroke="#A0A0A0" stroke-width="1.7" fill="none"/>
<path d="M236.49 1337.94V1349.14M230.89 1337.94L242.09 1349.14M230.89 1349.14L242.09 1337.94" stroke="#A0A0A0" stroke-width="1.7" fill="none"/>
<path d="M308.92 1285.35V1296.55M303.32 1285.35L314.52 1296.55M303.32 1296.55L314.52 1285.35" stroke="#A0A0A0" stroke-width="1.7" fill="none"/>
<path d="M364.48 1256.06V1267.26M358.88 1256.06L370.08 1267.26M358.88 1267.26L370.08 1256.06" stroke="#A0A0A0" stroke-width="1.7" fill="none"/>
<path d="M424.17 1218.56V1229.76M418.57 1218.56L429.77 1229.76M418.57 1229.76L429.77 1218.56" stroke="#A0A0A0" stroke-width="1.7" fill="none"/>
<path d="M497.62 1185.05V1196.25M492.02 1185.05L503.22 1196.25M492.02 1196.25L503.22 1185.05" stroke="#A0A0A0" stroke-width="1.7" fill="none"/>
<path d="M497.62 1187.06L424.17 1219.9L364.48 1252.43L308.92 1289.02L236.49 1349.42L205.91 1380.75L192.2 1396.23L169.56 1424.02L156.83 1441.04L152.88 1446.54L142.69 1461.24L138.43 1467.62" stroke="#70AD47" stroke-width="2.3" fill="none" stroke-dasharray="0 5.94" stroke-linecap="round" stroke-linejoin="round"/>
<circle cx="138.43" cy="1467.62" r="5.85" stroke="#70AD47" stroke-width="1.9" fill="none"/>
<circle cx="142.69" cy="1461.24" r="5.85" stroke="#70AD47" stroke-width="1.9" fill="none"/>
<circle cx="152.88" cy="1446.54" r="5.85" stroke="#70AD47" stroke-width="1.9" fill="none"/>
<circle cx="156.83" cy="1441.04" r="5.85" stroke="#70AD47" stroke-width="1.9" fill="none"/>
<circle cx="169.56" cy="1424.02" r="5.85" stroke="#70AD47" stroke-width="1.9" fill="none"/>
<circle cx="192.2" cy="1396.23" r="5.85" stroke="#70AD47" stroke-width="1.9" fill="none"/>
<circle cx="205.91" cy="1380.75" r="5.85" stroke="#70AD47" stroke-width="1.9" fill="none"/>
<circle cx="236.49" cy="1349.42" r="5.85" stroke="#70AD47" stroke-width="1.9" fill="none"/>
<circle cx="308.92" cy="1289.02" r="5.85" stroke="#70AD47" stroke-width="1.9" fill="none"/>
<circle cx="364.48" cy="1252.43" r="5.85" stroke="#70AD47" stroke-width="1.9" fill="none"/>
<circle cx="424.17" cy="1219.9" r="5.85" stroke="#70AD47" stroke-width="1.9" fill="none"/>
<circle cx="497.62" cy="1187.06" r="5.85" stroke="#70AD47" stroke-width="1.9" fill="none"/>
<path d="M497.62 1205.74L424.17 1229.4L364.48 1254.22L308.92 1283.93L236.49 1337.71L205.91 1367.56L192.2 1383.59L169.56 1413.29L156.83 1432.37L152.88 1438.25L142.69 1455.29L138.43 1463.19" stroke="#D66E26" stroke-width="2.6" fill="none" stroke-dasharray="8.8 11.9" stroke-linecap="round" stroke-linejoin="round"/>
<rect x="132.73" y="1457.49" width="11.4" height="11.4" stroke="#D66E26" stroke-width="1.9" fill="none"/>
<rect x="136.99" y="1449.59" width="11.4" height="11.4" stroke="#D66E26" stroke-width="1.9" fill="none"/>
<rect x="147.18" y="1432.55" width="11.4" height="11.4" stroke="#D66E26" stroke-width="1.9" fill="none"/>
<rect x="151.13" y="1426.67" width="11.4" height="11.4" stroke="#D66E26" stroke-width="1.9" fill="none"/>
<rect x="163.86" y="1407.59" width="11.4" height="11.4" stroke="#D66E26" stroke-width="1.9" fill="none"/>
<rect x="186.5" y="1377.89" width="11.4" height="11.4" stroke="#D66E26" stroke-width="1.9" fill="none"/>
<rect x="200.21" y="1361.86" width="11.4" height="11.4" stroke="#D66E26" stroke-width="1.9" fill="none"/>
<rect x="230.79" y="1332.01" width="11.4" height="11.4" stroke="#D66E26" stroke-width="1.9" fill="none"/>
<rect x="303.22" y="1278.23" width="11.4" height="11.4" stroke="#D66E26" stroke-width="1.9" fill="none"/>
<rect x="358.78" y="1248.52" width="11.4" height="11.4" stroke="#D66E26" stroke-width="1.9" fill="none"/>
<rect x="418.47" y="1223.7" width="11.4" height="11.4" stroke="#D66E26" stroke-width="1.9" fill="none"/>
<rect x="491.92" y="1200.04" width="11.4" height="11.4" stroke="#D66E26" stroke-width="1.9" fill="none"/>
<path d="M138.43 1462.89L145.43 1476.29H131.43Z" fill="#6A99D5"/>
<path d="M142.69 1448.15L149.69 1461.55H135.69Z" fill="#6A99D5"/>
<path d="M152.88 1447.73L159.88 1461.13H145.88Z" fill="#6A99D5"/>
<path d="M156.83 1446.02L163.83 1459.42H149.83Z" fill="#6A99D5"/>
<path d="M169.56 1439.7L176.56 1453.1H162.56Z" fill="#6A99D5"/>
<path d="M192.2 1420.94L199.2 1434.34H185.2Z" fill="#6A99D5"/>
<path d="M205.91 1384.46L212.91 1397.86H198.91Z" fill="#6A99D5"/>
<path d="M236.49 1315.98L243.49 1329.38H229.49Z" fill="#6A99D5"/>
<path d="M308.92 1235.39L315.92 1248.79H301.92Z" fill="#6A99D5"/>
<path d="M364.48 1213.68L371.48 1227.08H357.48Z" fill="#6A99D5"/>
<path d="M424.17 1199.77L431.17 1213.17H417.17Z" fill="#6A99D5"/>
<path d="M497.62 1167.84L504.62 1181.24H490.62Z" fill="#6A99D5"/>
<text transform="translate(37.9 1309.4) rotate(-90)" font-size="22.9" text-anchor="middle">Normalized Structure Distortion</text>
<text transform="translate(65 1308.8) rotate(-90)" font-size="22.9" text-anchor="middle">(Δ<tspan font-size="14.8" dy="4.9">str</tspan><tspan dy="-4.9">/Δ</tspan><tspan font-size="14.8" dy="4.9">soil</tspan><tspan dy="-4.9">)</tspan></text>
<text x="365" y="1547.1" font-size="22.9" text-anchor="middle">Flexibilty Ratio, F</text>
</g>
<g id="infoC">
<rect x="605.9" y="1127.5" width="223.9" height="137.9" fill="none" stroke="#000" stroke-width="1.9"/>
<text x="612.5" y="1153.1" font-size="22.9" text-anchor="start">C/H = 0.75</text>
<text x="612.5" y="1204.9" font-size="22.9" text-anchor="start">Inner structure = 0.4 m</text>
<text x="612.5" y="1257.8" font-size="22.9" text-anchor="start">Kocaeli</text>
<path d="M604.8 1308.2H664.8" stroke="#A0A0A0" stroke-width="2.6" stroke-dasharray="12 9.2 2 9.2" fill="none"/>
<path d="M635.4 1302.6V1313.8M629.8 1302.6L641 1313.8M629.8 1313.8L641 1302.6" stroke="#A0A0A0" stroke-width="1.7" fill="none"/>
<text x="671" y="1315.2" font-size="22.9" text-anchor="start">Wang (1993)</text>
<path d="M606.9 1346.5H661.4" stroke="#70AD47" stroke-width="2.3" stroke-dasharray="0 5.94" stroke-linecap="round" fill="none"/>
<circle cx="635.4" cy="1346.5" r="5.85" stroke="#70AD47" stroke-width="1.9" fill="none"/>
<text x="671" y="1353.9" font-size="22.9" text-anchor="start">Penizen (2000)</text>
<path d="M607.4 1383.5H664.8" stroke="#D66E26" stroke-width="2.6" stroke-dasharray="8.8 11.9" stroke-linecap="round" fill="none"/>
<rect x="629.7" y="1377.8" width="11.4" height="11.4" stroke="#D66E26" stroke-width="1.9" fill="none"/>
<text x="671" y="1391" font-size="22.9" text-anchor="start">Anderson (2008)</text>
<path d="M635.4 1415L642.4 1428.4H628.4Z" fill="#6A99D5"/>
<text x="671" y="1429" font-size="22.9" text-anchor="start">FE Analyses</text>
</g>
<g id="rightC">
<rect x="1058.2" y="1117.3" width="449.1" height="358.3" fill="none" stroke="#000" stroke-width="2"/>
<path d="M1058.2 1475.6v7M1170.47 1475.6v7M1282.75 1475.6v7M1395.03 1475.6v7M1507.3 1475.6v7M1058.2 1475.6h-7M1058.2 1386.02h-7M1058.2 1296.45h-7M1058.2 1206.88h-7M1058.2 1117.3h-7" stroke="#000" stroke-width="2" fill="none"/>
<text x="1058.2" y="1509.9" font-size="22.9" text-anchor="middle">0</text>
<text x="1170.47" y="1509.9" font-size="22.9" text-anchor="middle">0.4</text>
<text x="1282.75" y="1509.9" font-size="22.9" text-anchor="middle">0.8</text>
<text x="1395.03" y="1509.9" font-size="22.9" text-anchor="middle">1.2</text>
<text x="1507.3" y="1509.9" font-size="22.9" text-anchor="middle">1.6</text>
<text x="1038.4" y="1482.9" font-size="22.9" text-anchor="end">0</text>
<text x="1038.4" y="1393.32" font-size="22.9" text-anchor="end">0.4</text>
<text x="1038.4" y="1303.75" font-size="22.9" text-anchor="end">0.8</text>
<text x="1038.4" y="1214.17" font-size="22.9" text-anchor="end">1.2</text>
<text x="1038.4" y="1124.6" font-size="22.9" text-anchor="end">1.6</text>
<path d="M1058.2 1475.6L1507.3 1117.3" stroke="#000" stroke-width="2" stroke-dasharray="6 2" fill="none"/>
<path d="M1075.04 1451.41V1462.61M1069.44 1451.41L1080.64 1462.61M1069.44 1462.61L1080.64 1451.41" stroke="#A0A0A0" stroke-width="1.7" fill="none"/>
<path d="M1093.68 1442.46V1453.66M1088.08 1442.46L1099.28 1453.66M1088.08 1453.66L1099.28 1442.46" stroke="#A0A0A0" stroke-width="1.7" fill="none"/>
<path d="M1094.21 1428.57V1439.77M1088.61 1428.57L1099.81 1439.77M1088.61 1439.77L1099.81 1428.57" stroke="#A0A0A0" stroke-width="1.7" fill="none"/>
<path d="M1096.37 1422.97V1434.17M1090.77 1422.97L1101.97 1434.17M1090.77 1434.17L1101.97 1422.97" stroke="#A0A0A0" stroke-width="1.7" fill="none"/>
<path d="M1104.37 1407.07V1418.27M1098.77 1407.07L1109.97 1418.27M1098.77 1418.27L1109.97 1407.07" stroke="#A0A0A0" stroke-width="1.7" fill="none"/>
<path d="M1128.09 1379.39V1390.59M1122.49 1379.39L1133.69 1390.59M1122.49 1390.59L1133.69 1379.39" stroke="#A0A0A0" stroke-width="1.7" fill="none"/>
<path d="M1174.24 1362.51V1373.71M1168.64 1362.51L1179.84 1373.71M1168.64 1373.71L1179.84 1362.51" stroke="#A0A0A0" stroke-width="1.7" fill="none"/>
<path d="M1260.86 1329.37V1340.57M1255.26 1329.37L1266.46 1340.57M1255.26 1340.57L1266.46 1329.37" stroke="#A0A0A0" stroke-width="1.7" fill="none"/>
<path d="M1362.8 1276.29V1287.49M1357.2 1276.29L1368.4 1287.49M1357.2 1287.49L1368.4 1276.29" stroke="#A0A0A0" stroke-width="1.7" fill="none"/>
<path d="M1390.25 1246.73V1257.93M1384.65 1246.73L1395.85 1257.93M1384.65 1257.93L1395.85 1246.73" stroke="#A0A0A0" stroke-width="1.7" fill="none"/>
<path d="M1407.85 1208.89V1220.09M1402.25 1208.89L1413.45 1220.09M1402.25 1220.09L1413.45 1208.89" stroke="#A0A0A0" stroke-width="1.7" fill="none"/>
<path d="M1448.24 1175.07V1186.27M1442.64 1175.07L1453.84 1186.27M1442.64 1186.27L1453.84 1175.07" stroke="#A0A0A0" stroke-width="1.7" fill="none"/>
<circle cx="1075.04" cy="1460.18" r="5.85" stroke="#5B8FD6" stroke-width="1.9" fill="none"/>
<circle cx="1093.68" cy="1453.74" r="5.85" stroke="#5B8FD6" stroke-width="1.9" fill="none"/>
<circle cx="1094.21" cy="1438.91" r="5.85" stroke="#5B8FD6" stroke-width="1.9" fill="none"/>
<circle cx="1096.37" cy="1433.36" r="5.85" stroke="#5B8FD6" stroke-width="1.9" fill="none"/>
<circle cx="1104.37" cy="1416.18" r="5.85" stroke="#5B8FD6" stroke-width="1.9" fill="none"/>
<circle cx="1128.09" cy="1388.14" r="5.85" stroke="#5B8FD6" stroke-width="1.9" fill="none"/>
<circle cx="1174.24" cy="1372.52" r="5.85" stroke="#5B8FD6" stroke-width="1.9" fill="none"/>
<circle cx="1260.86" cy="1340.9" r="5.85" stroke="#5B8FD6" stroke-width="1.9" fill="none"/>
<circle cx="1362.8" cy="1279.95" r="5.85" stroke="#5B8FD6" stroke-width="1.9" fill="none"/>
<circle cx="1390.25" cy="1243.02" r="5.85" stroke="#5B8FD6" stroke-width="1.9" fill="none"/>
<circle cx="1407.85" cy="1210.19" r="5.85" stroke="#5B8FD6" stroke-width="1.9" fill="none"/>
<circle cx="1448.24" cy="1177.05" r="5.85" stroke="#5B8FD6" stroke-width="1.9" fill="none"/>
<path d="M1075.04 1451.5L1080.44 1462.2H1069.64Z" stroke="#D66E26" stroke-width="1.9" fill="none" stroke-linejoin="miter"/>
<path d="M1093.68 1443.76L1099.08 1454.46H1088.28Z" stroke="#D66E26" stroke-width="1.9" fill="none" stroke-linejoin="miter"/>
<path d="M1094.21 1426.33L1099.61 1437.03H1088.81Z" stroke="#D66E26" stroke-width="1.9" fill="none" stroke-linejoin="miter"/>
<path d="M1096.37 1419.96L1101.77 1430.66H1090.97Z" stroke="#D66E26" stroke-width="1.9" fill="none" stroke-linejoin="miter"/>
<path d="M1104.37 1400.71L1109.77 1411.41H1098.97Z" stroke="#D66E26" stroke-width="1.9" fill="none" stroke-linejoin="miter"/>
<path d="M1128.09 1370.73L1133.49 1381.43H1122.69Z" stroke="#D66E26" stroke-width="1.9" fill="none" stroke-linejoin="miter"/>
<path d="M1174.24 1354.78L1179.64 1365.48H1168.84Z" stroke="#D66E26" stroke-width="1.9" fill="none" stroke-linejoin="miter"/>
<path d="M1260.86 1323.98L1266.26 1334.68H1255.46Z" stroke="#D66E26" stroke-width="1.9" fill="none" stroke-linejoin="miter"/>
<path d="M1362.8 1269.71L1368.2 1280.41H1357.4Z" stroke="#D66E26" stroke-width="1.9" fill="none" stroke-linejoin="miter"/>
<path d="M1390.25 1239.72L1395.65 1250.42H1384.85Z" stroke="#D66E26" stroke-width="1.9" fill="none" stroke-linejoin="miter"/>
<path d="M1407.85 1214.68L1413.25 1225.38H1402.45Z" stroke="#D66E26" stroke-width="1.9" fill="none" stroke-linejoin="miter"/>
<path d="M1448.24 1190.81L1453.64 1201.51H1442.84Z" stroke="#D66E26" stroke-width="1.9" fill="none" stroke-linejoin="miter"/>
<text transform="translate(992.1 1299.5) rotate(-90)" font-size="22.9" text-anchor="middle">Analytical Racking</text>
<text x="1297.2" y="1542.4" font-size="22.9" text-anchor="middle">Numerical Racking</text>
<path d="M1552.2 1232.6V1243.8M1546.6 1232.6L1557.8 1243.8M1546.6 1243.8L1557.8 1232.6" stroke="#A0A0A0" stroke-width="1.7" fill="none"/>
<text x="1587.6" y="1245.6" font-size="22.9" text-anchor="start">Wang (1993)</text>
<circle cx="1552.2" cy="1279.3" r="5.85" stroke="#5B8FD6" stroke-width="1.9" fill="none"/>
<text x="1587.6" y="1286.7" font-size="22.9" text-anchor="start">Penizen (2000)</text>
<path d="M1552.2 1315.7L1557.6 1326.4H1546.8Z" stroke="#D66E26" stroke-width="1.9" fill="none" stroke-linejoin="miter"/>
<text x="1587.6" y="1328.2" font-size="22.9" text-anchor="start">Anderson (2008)</text>
<path d="M1523 1362.4H1582.4" stroke="#000" stroke-width="2" stroke-dasharray="6 2" fill="none"/>
<text x="1587.6" y="1369.8" font-size="22.9" text-anchor="start">1:1 line</text>
</g>
<text class="pl" transform="translate(1.2 32) scale(1.02 1)" font-size="43.3">A</text>
<text class="pl" transform="translate(3.9 542.8) scale(0.936 1)" font-size="42.4">B</text>
<text class="pl" transform="translate(3.9 1098.7) scale(0.92 1)" font-size="44">C</text>
</svg></body></html>
